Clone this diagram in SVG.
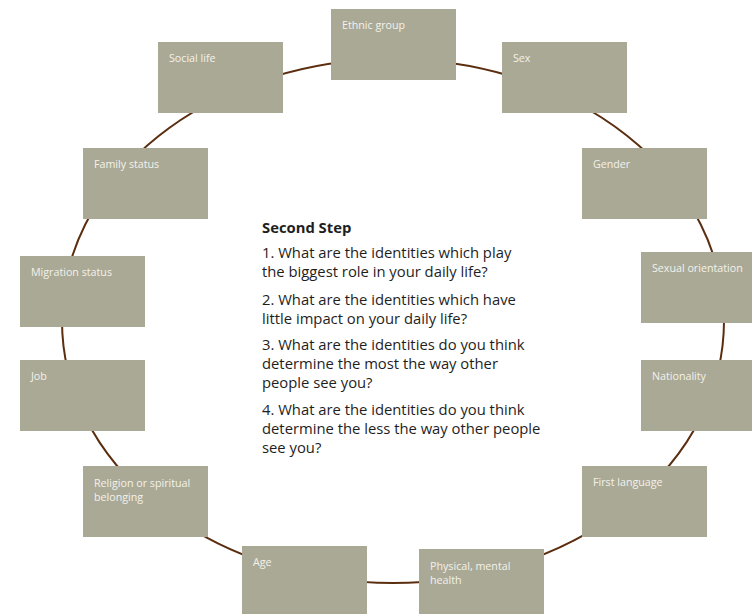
<svg xmlns="http://www.w3.org/2000/svg" width="752" height="614" viewBox="0 0 752 614">
<style>
.box{fill:#aaa996;}
.lbl{font-family:"Open Sans","Liberation Sans",sans-serif;font-size:10.7px;fill:#f3f2ea;}
.q{font-family:"Open Sans","Liberation Sans",sans-serif;font-size:14.8px;fill:#1e1e1e;}
.h{font-weight:bold;}
</style>
<rect width="752" height="614" fill="#ffffff"/>
<g id="connectors">
<ellipse cx="393" cy="321" rx="331" ry="262" fill="none" stroke="#5b2e10" stroke-width="2"/>
</g>
<g id="ethnic"><rect class="box" x="331" y="9" width="125" height="71"/><text class="lbl" x="342" y="29">Ethnic group</text></g>
<g id="social"><rect class="box" x="158" y="42" width="125" height="71"/><text class="lbl" x="169" y="62">Social life</text></g>
<g id="sex"><rect class="box" x="502" y="42" width="125" height="71"/><text class="lbl" x="513" y="62">Sex</text></g>
<g id="family"><rect class="box" x="83" y="148" width="125" height="71"/><text class="lbl" x="94" y="168">Family status</text></g>
<g id="gender"><rect class="box" x="582" y="148" width="125" height="71"/><text class="lbl" x="593" y="168">Gender</text></g>
<g id="migration"><rect class="box" x="20" y="256" width="125" height="71"/><text class="lbl" x="31" y="276">Migration status</text></g>
<g id="sexual"><rect class="box" x="641" y="252" width="125" height="71"/><text class="lbl" x="652" y="272">Sexual orientation</text></g>
<g id="job"><rect class="box" x="20" y="360" width="125" height="71"/><text class="lbl" x="31" y="380">Job</text></g>
<g id="nationality"><rect class="box" x="641" y="360" width="125" height="71"/><text class="lbl" x="652" y="380">Nationality</text></g>
<g id="religion"><rect class="box" x="83" y="466" width="125" height="71"/><text class="lbl" x="94" y="487">Religion or spiritual</text><text class="lbl" x="94" y="501">belonging</text></g>
<g id="firstlang"><rect class="box" x="582" y="466" width="125" height="71"/><text class="lbl" x="593" y="486">First language</text></g>
<g id="age"><rect class="box" x="242" y="546" width="125" height="71"/><text class="lbl" x="253" y="566">Age</text></g>
<g id="health"><rect class="box" x="419" y="549" width="125" height="71"/><text class="lbl" x="430" y="570">Physical, mental</text><text class="lbl" x="430" y="584">health</text></g>
<g id="center">
<text class="q h" x="262" y="233">Second Step</text>
<text class="q" x="262" y="258">1. What are the identities which play</text>
<text class="q" x="262" y="277">the biggest role in your daily life?</text>
<text class="q" x="262" y="305">2. What are the identities which have</text>
<text class="q" x="262" y="324">little impact on your daily life?</text>
<text class="q" x="262" y="350">3. What are the identities do you think</text>
<text class="q" x="262" y="369">determine the most the way other</text>
<text class="q" x="262" y="388">people see you?</text>
<text class="q" x="262" y="415">4. What are the identities do you think</text>
<text class="q" x="262" y="434">determine the less the way other people</text>
<text class="q" x="262" y="453">see you?</text>
</g>
</svg>
